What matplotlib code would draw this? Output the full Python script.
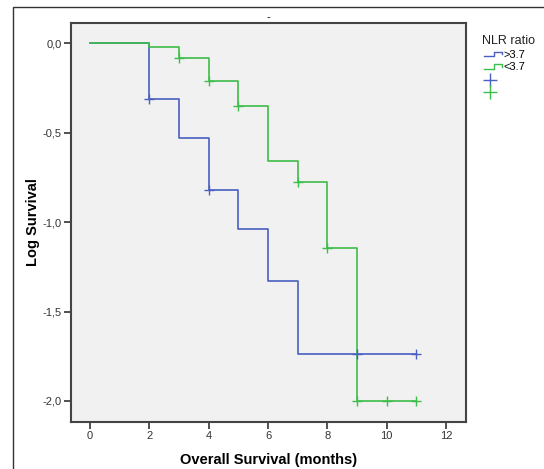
import matplotlib
matplotlib.use("Agg")
import matplotlib.pyplot as plt
from matplotlib.lines import Line2D
from matplotlib.patches import Rectangle
from matplotlib.legend_handler import HandlerBase

plt.rcParams['font.family'] = ['Liberation Sans', 'DejaVu Sans']

# Data
blue_times = [0, 2, 3, 4, 5, 6, 7, 11]
blue_logsurv = [0.0, -0.31, -0.53, -0.82, -1.04, -1.33, -1.74, -1.74]
blue_cens_t = [2, 4, 9, 11]
blue_cens_y = [-0.31, -0.82, -1.74, -1.74]

green_times = [0, 2, 3, 4, 5, 6, 7, 8, 9, 11]
green_logsurv = [0.0, -0.02, -0.085, -0.21, -0.35, -0.66, -0.775, -1.145, -2.0, -2.0]
green_cens_t = [3, 4, 5, 7, 8, 9, 10, 11]
green_cens_y = [-0.085, -0.21, -0.35, -0.775, -1.145, -2.0, -2.0, -2.0]

group_labels = ['>3.7', '<3.7']
xticks = [0, 2, 4, 6, 8, 10, 12]
yticks = [0.0, -0.5, -1.0, -1.5, -2.0]
ytick_labels = ['0,0', '-0,5', '-1,0', '-1,5', '-2,0']

blue = '#4a5fc1'
green = '#3dbd4a'


class StepHandle:
    def __init__(self, color):
        self.color = color


class PlusHandle:
    def __init__(self, color):
        self.color = color


class HandlerStep(HandlerBase):
    def create_artists(self, legend, orig_handle, xdescent, ydescent, width, height, fontsize, trans):
        x0 = -xdescent
        y0 = -ydescent
        xs = [x0 + 0.1 * width, x0 + 0.55 * width, x0 + 0.55 * width, x0 + 0.9 * width, x0 + 0.9 * width]
        ys = [y0 + 0.2 * height, y0 + 0.2 * height, y0 + 0.75 * height, y0 + 0.75 * height, y0 + 0.45 * height]
        ln = Line2D(xs, ys, color=orig_handle.color, lw=1.0, transform=trans)
        return [ln]


class HandlerPlus(HandlerBase):
    def create_artists(self, legend, orig_handle, xdescent, ydescent, width, height, fontsize, trans):
        x0 = -xdescent
        y0 = -ydescent
        ln = Line2D([x0 + 0.35 * width], [y0 + 0.45 * height], ls='none', marker='+', ms=10,
                    mew=1.0, color=orig_handle.color, transform=trans)
        return [ln]


fig = plt.figure(figsize=(5.44, 4.69), dpi=100)
fig.patch.set_facecolor('white')

# outer frame
fig.add_artist(Rectangle((13/544, -0.1), 1.2, 1 - 7.5/469 + 0.1, transform=fig.transFigure,
                         fill=False, edgecolor='#333333', linewidth=1.0))

ax = fig.add_axes([71/544, 1 - 421.7/469, (466 - 71)/544, (421.7 - 22.7)/469])
ax.set_facecolor('#f1f1f1')

ax.step(blue_times, blue_logsurv, where='post', color=blue, lw=1.2, zorder=3)
ax.step(green_times, green_logsurv, where='post', color=green, lw=1.2, zorder=4)
ax.plot(blue_cens_t, blue_cens_y, ls='none', marker='+', ms=7, mew=1.0, color=blue, zorder=5)
ax.plot(green_cens_t, green_cens_y, ls='none', marker='+', ms=7, mew=1.0, color=green, zorder=5)

ax.set_xlim(-0.64, 12.67)
ax.set_ylim(-2.116, 0.115)
ax.set_xticks(xticks)
ax.set_xticklabels([str(t) for t in xticks], fontsize=8, color='#333333')
ax.set_yticks(yticks)
ax.set_yticklabels(ytick_labels, fontsize=8, color='#333333')
ax.tick_params(axis='both', direction='out', length=5, width=1.2, color='#333333', pad=1.5)
for s in ax.spines.values():
    s.set_color('#444444')
    s.set_linewidth(1.5)

ax.set_xlabel('Overall Survival (months)', fontsize=10.5, fontweight='bold', labelpad=9)
ax.set_ylabel('Log Survival', fontsize=10.5, fontweight='bold', labelpad=2)
ax.set_title('-', fontsize=8, pad=2)

# legend
handles = [StepHandle(blue), StepHandle(green), PlusHandle(blue), PlusHandle(green)]
labels = group_labels + ['', '']
leg = fig.legend(handles, labels, loc='upper left', bbox_to_anchor=(474/544, 1 - 27/469),
                 title='NLR ratio', frameon=False, fontsize=8, title_fontsize=9,
                 handlelength=2.0, handletextpad=0.0, labelspacing=0.25, borderpad=0.2,
                 handler_map={StepHandle: HandlerStep(), PlusHandle: HandlerPlus()})
leg._legend_box.align = 'left'
leg.get_title().set_color('#222222')

fig.savefig('out.png', dpi=100)
